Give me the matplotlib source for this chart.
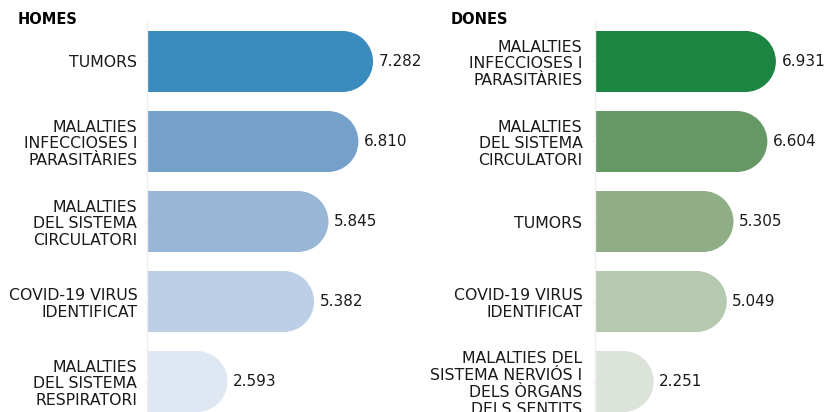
import matplotlib.pyplot as plt
from matplotlib.patches import Ellipse

# dades
homes_labels = ["TUMORS", "MALALTIES\nINFECCIOSES I\nPARASITÀRIES",
                "MALALTIES\nDEL SISTEMA\nCIRCULATORI", "COVID-19 VIRUS\nIDENTIFICAT",
                "MALALTIES\nDEL SISTEMA\nRESPIRATORI"]
homes_values = [7.282, 6.810, 5.845, 5.382, 2.593]
homes_colors = ["#3a8bbe", "#74a0c9", "#99b6d6", "#bccfe6", "#dfe7f2"]

dones_labels = ["MALALTIES\nINFECCIOSES I\nPARASITÀRIES", "MALALTIES\nDEL SISTEMA\nCIRCULATORI",
                "TUMORS", "COVID-19 VIRUS\nIDENTIFICAT",
                "MALALTIES DEL\nSISTEMA NERVIÓS I\nDELS ÒRGANS\nDELS SENTITS"]
dones_values = [6.931, 6.604, 5.305, 5.049, 2.251]
dones_colors = ["#1d8542", "#669866", "#90ae86", "#b5c9af", "#dce4da"]

W, H = 827, 412
BAR_H = 0.7625
XMAX = 8.5


def format_num(v):
    return "{:.3f}".format(v)


def draw_panel(ax, labels, values, colors, px_per_unit, pad):
    ax.set_xlim(0, XMAX)
    ax.set_ylim(4.381, -0.506)
    ypos = list(range(len(values)))
    # half bar height in pixels -> radius of the rounded end in x data units
    rx = (BAR_H * 80 / 2) / px_per_unit
    ax.barh(ypos, [v - rx for v in values], height=BAR_H, color=colors, linewidth=0)
    for y, v, c in zip(ypos, values, colors):
        e = Ellipse((v - rx, y), 2 * rx, BAR_H, color=c, linewidth=0)
        ax.add_patch(e)
        ax.annotate(format_num(v), (v, y), xytext=(4, 0),
                    textcoords="offset points", va="center", ha="left",
                    fontsize=11, color="#1a1a1a", annotation_clip=False)
    ax.set_yticks(ypos)
    ax.set_yticklabels(labels, fontsize=11.3, color="#1a1a1a")
    for t in ax.get_yticklabels():
        t.set_linespacing(1.15)
    ax.tick_params(axis="y", length=2, width=0.8, color="#eeeeee", pad=pad)
    ax.set_xticks([])
    for s in ["top", "right", "bottom"]:
        ax.spines[s].set_visible(False)
    ax.spines["left"].set_color("#efefef")
    ax.spines["left"].set_linewidth(1)


fig = plt.figure(figsize=(W / 100, H / 100), dpi=100)

left_ppu = 31.04
right_ppu = 26.1
ax1 = fig.add_axes([147 / W, 0, XMAX * left_ppu / W, 391 / H])
ax2 = fig.add_axes([595 / W, 0, XMAX * right_ppu / W, 391 / H])

draw_panel(ax1, homes_labels, homes_values, homes_colors, left_ppu, 5)
draw_panel(ax2, dones_labels, dones_values, dones_colors, right_ppu, 7)

fig.text(18 / W, 1 - 20 / H, "HOMES", fontsize=10.5, fontweight="bold", va="center", ha="left")
fig.text(451 / W, 1 - 20 / H, "DONES", fontsize=10.5, fontweight="bold", va="center", ha="left")

fig.savefig("out.png", dpi=100)
